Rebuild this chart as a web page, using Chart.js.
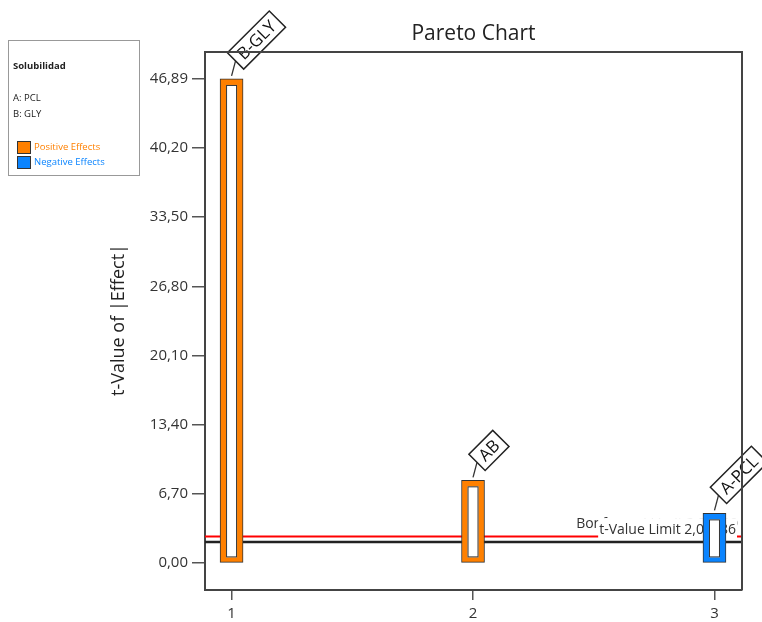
<!DOCTYPE html>
<html>
<head>
<meta charset="utf-8">
<title>Pareto Chart</title>
<script src="https://cdn.jsdelivr.net/npm/chart.js@4.4.1/dist/chart.umd.min.js"></script>
<style>
  html, body { margin: 0; padding: 0; background: #fff; }
  #wrap { width: 762px; height: 622px; position: relative; }
</style>
</head>
<body>
<div id="wrap"><canvas id="pareto"></canvas></div>
<script>
// effects, ranked by t-value
const terms = ['B-GLY', 'AB', 'A-PCL'];
const ranks = [1, 2, 3];
const tValues = [46.89, 8.02, 4.82];
const effectSigns = [1, 1, -1];

const yTicks = [0, 6.70, 13.40, 20.10, 26.80, 33.50, 40.20, 46.89];
const xTicks = [1, 2, 3];

const tValueLimit = 2.04086;
const bonferroniLimit = 2.59;

const responseName = 'Solubilidad';
const factorNames = ['A: PCL', 'B: GLY'];
const legendItems = ['Positive Effects', 'Negative Effects'];

const ORANGE = '#FF8000';
const BLUE = '#0A84FF';
const FONT = '"Open Sans", "Noto Sans", sans-serif';

const fmt = v => v.toFixed(2).replace('.', ',');
const fmt5 = v => v.toFixed(5).replace('.', ',');

const paretoDecor = {
  id: 'paretoDecor',
  beforeDatasetsDraw(chart) {
    const { ctx, chartArea: a, scales: { y } } = chart;
    const yB = y.getPixelForValue(bonferroniLimit);
    const yT = y.getPixelForValue(tValueLimit);
    ctx.save();
    // limit lines
    ctx.lineWidth = 2;
    ctx.strokeStyle = '#FF0000';
    ctx.beginPath(); ctx.moveTo(a.left, yB); ctx.lineTo(a.right, yB); ctx.stroke();
    ctx.strokeStyle = '#222';
    ctx.lineWidth = 2.5;
    ctx.beginPath(); ctx.moveTo(a.left, yT); ctx.lineTo(a.right, yT); ctx.stroke();

    // limit labels, the t-value one sits on top with a white background
    ctx.font = '14px ' + FONT;
    ctx.fillStyle = '#333';
    ctx.textAlign = 'right';
    ctx.textBaseline = 'alphabetic';
    ctx.fillText('Bonferroni Limit ' + fmt5(bonferroniLimit), a.right - 4, yB - 8);
    const tLabel = 't-Value Limit ' + fmt5(tValueLimit);
    const tw = ctx.measureText(tLabel).width;
    const tx = a.right - 6;
    const tb = yT - 8;
    ctx.fillStyle = '#fff';
    ctx.fillRect(tx - tw - 1, tb - 16, tw + 2, 20);
    ctx.fillStyle = '#333';
    ctx.fillText(tLabel, tx, tb);
    ctx.restore();
  },
  afterDatasetsDraw(chart) {
    const { ctx } = chart;
    const bars = chart.getDatasetMeta(0).data;
    ctx.save();
    bars.forEach((bar, i) => {
      const w = bar.width;
      // hollow centre of each bar
      const l = bar.x - w / 2 + 6;
      const r = bar.x + w / 2 - 6;
      const t = bar.y + 6;
      const b = bar.base - 5;
      ctx.fillStyle = '#fff';
      ctx.fillRect(l, t, r - l, b - t);
      ctx.strokeStyle = '#333';
      ctx.lineWidth = 1;
      ctx.strokeRect(l + 0.5, t + 0.5, r - l - 1, b - t - 1);

      // leader line and rotated term label
      const ax = bar.x + 4;
      const ay = bar.y - 18;
      ctx.strokeStyle = '#333';
      ctx.lineWidth = 1.3;
      ctx.beginPath(); ctx.moveTo(bar.x, bar.y - 3); ctx.lineTo(ax, ay); ctx.stroke();

      ctx.save();
      ctx.translate(ax, ay);
      ctx.rotate(-Math.PI / 4);
      ctx.font = '17px ' + FONT;
      const bw = ctx.measureText(terms[i]).width + 12;
      ctx.fillStyle = '#fff';
      ctx.fillRect(0, -11.5, bw, 23);
      ctx.strokeStyle = '#222';
      ctx.lineWidth = 1.5;
      ctx.strokeRect(0, -11.5, bw, 23);
      ctx.fillStyle = '#111';
      ctx.textAlign = 'center';
      ctx.textBaseline = 'middle';
      ctx.fillText(terms[i], bw / 2, 1);
      ctx.restore();
    });
    ctx.restore();
  },
  afterDraw(chart) {
    const { ctx, chartArea: a } = chart;
    ctx.save();
    // frame top and right
    ctx.strokeStyle = '#444';
    ctx.lineWidth = 2;
    ctx.beginPath();
    ctx.moveTo(a.left, a.top); ctx.lineTo(a.right, a.top); ctx.lineTo(a.right, a.bottom);
    ctx.stroke();

    // title
    ctx.fillStyle = '#222';
    ctx.font = '21px ' + FONT;
    ctx.textAlign = 'center';
    ctx.textBaseline = 'middle';
    ctx.fillText('Pareto Chart', (a.left + a.right) / 2, 34);

    // y axis title
    ctx.save();
    ctx.translate(119, 320);
    ctx.rotate(-Math.PI / 2);
    ctx.font = '18px ' + FONT;
    ctx.fillText('t-Value of |Effect|', 0, 0);
    ctx.restore();

    // legend box
    ctx.fillStyle = '#fff';
    ctx.fillRect(8, 40, 131, 135);
    ctx.strokeStyle = '#999';
    ctx.lineWidth = 1;
    ctx.strokeRect(8.5, 40.5, 131, 135);
    ctx.textAlign = 'left';
    ctx.fillStyle = '#222';
    ctx.font = 'bold 9.5px ' + FONT;
    ctx.fillText(responseName, 13, 66);
    ctx.font = '9.5px ' + FONT;
    factorNames.forEach((f, i) => ctx.fillText(f, 13, 98 + i * 16));
    [ORANGE, BLUE].forEach((c, i) => {
      const sy = 141 + i * 15;
      ctx.fillStyle = c;
      ctx.fillRect(17, sy, 14, 13);
      ctx.strokeStyle = '#333';
      ctx.strokeRect(17.5, sy + 0.5, 13, 12);
      ctx.fillStyle = c;
      ctx.fillText(legendItems[i], 34, sy + 6.5);
    });
    ctx.restore();
  }
};

new Chart(document.getElementById('pareto'), {
  type: 'bar',
  data: {
    datasets: [{
      data: ranks.map((r, i) => ({ x: r, y: tValues[i] })),
      backgroundColor: effectSigns.map(s => s > 0 ? ORANGE : BLUE),
      borderColor: '#333',
      borderWidth: 1,
      borderSkipped: false,
      barThickness: 23
    }]
  },
  options: {
    responsive: true,
    maintainAspectRatio: false,
    animation: false,
    layout: { padding: { top: 52, right: 20, left: 0, bottom: 0 } },
    plugins: {
      legend: { display: false },
      tooltip: { enabled: false },
      title: { display: false }
    },
    scales: {
      x: {
        type: 'linear',
        min: 0.89,
        max: 3.114,
        offset: false,
        afterBuildTicks: s => { s.ticks = xTicks.map(v => ({ value: v })); },
        afterFit: s => { s.height = 32; },
        ticks: { font: { family: FONT, size: 15 }, color: '#333', padding: 5 },
        grid: { drawOnChartArea: false, offset: false, tickLength: 10, color: '#555', lineWidth: 1.5 },
        border: { display: true, color: '#444', width: 2 }
      },
      y: {
        min: -2.6,
        max: 49.5,
        afterBuildTicks: s => { s.ticks = yTicks.map(v => ({ value: v })); },
        afterFit: s => { s.width = 205; },
        ticks: { font: { family: FONT, size: 15 }, color: '#333', padding: 4, callback: v => fmt(v) },
        grid: { drawOnChartArea: false, tickLength: 13, color: '#555', lineWidth: 1.5 },
        border: { display: true, color: '#444', width: 2 }
      }
    }
  },
  plugins: [paretoDecor]
});
</script>
</body>
</html>
